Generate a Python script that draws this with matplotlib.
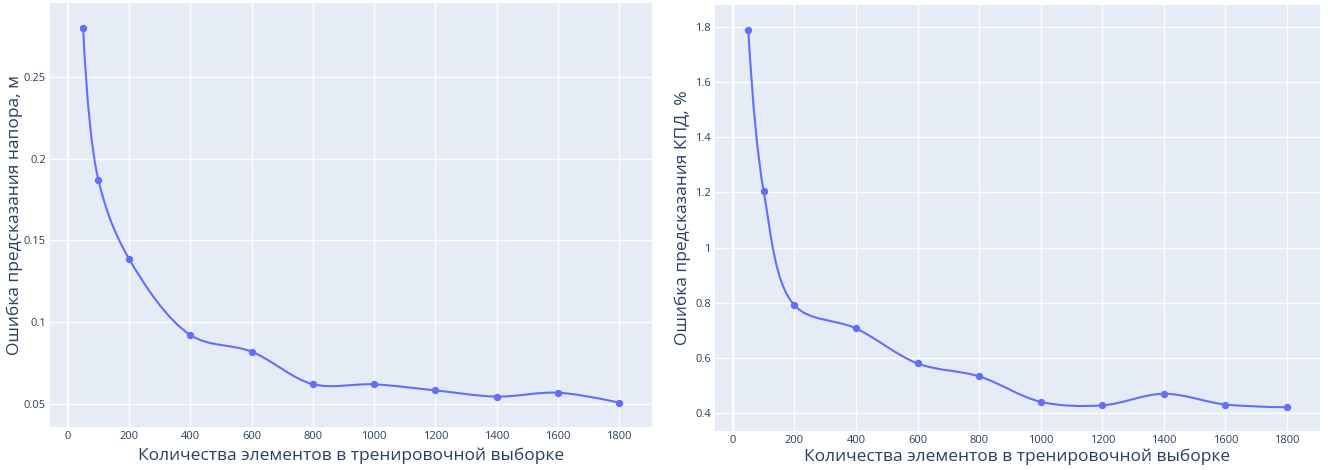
import numpy as np
import matplotlib.pyplot as plt
from matplotlib.path import Path
from matplotlib.patches import PathPatch

# Training set size and prediction errors
train_size = [50, 100, 200, 400, 600, 800, 1000, 1200, 1400, 1600, 1800]
head_error = [0.280, 0.187, 0.1388, 0.0922, 0.082, 0.0621, 0.062, 0.0583, 0.0545, 0.0569, 0.0508]
eff_error = [1.79, 1.204, 0.791, 0.707, 0.580, 0.533, 0.441, 0.428, 0.470, 0.431, 0.421]

x_ticks = [0, 200, 400, 600, 800, 1000, 1200, 1400, 1600, 1800]
head_ticks = [0.05, 0.1, 0.15, 0.2, 0.25]
eff_ticks = [0.4, 0.6, 0.8, 1.0, 1.2, 1.4, 1.6, 1.8]

x_label = 'Количества элементов в тренировочной выборке'
head_label = 'Ошибка предсказания напора, м'
eff_label = 'Ошибка предсказания КПД, %'

BG = '#E5ECF6'
LINE = '#636EFA'
TEXT = '#2a3f5f'

plt.rcParams['font.family'] = ['Open Sans', 'DejaVu Sans']


def tangent(p0, p1, p2, smooth=1.0):
    # Catmull-Rom style control points (centripetal, exponent 0.5)
    d1 = p0 - p1
    d2 = p2 - p1
    d1a = np.hypot(*d1) ** 0.5
    d2a = np.hypot(*d2) ** 0.5
    num = (d2a * d2a * d1 - d1a * d1a * d2) * smooth
    den1 = 3 * d2a * (d1a + d2a)
    den2 = 3 * d1a * (d1a + d2a)
    return p1 + num / den1, p1 - num / den2


def spline_path(ax, xs, ys):
    pts = ax.transData.transform(np.column_stack([xs, ys]))
    tans = [tangent(pts[i - 1], pts[i], pts[i + 1]) for i in range(1, len(pts) - 1)]
    verts = [pts[0], tans[0][0], pts[1]]
    codes = [Path.MOVETO, Path.CURVE3, Path.CURVE3]
    for i in range(2, len(pts) - 1):
        verts += [tans[i - 2][1], tans[i - 1][0], pts[i]]
        codes += [Path.CURVE4] * 3
    verts += [tans[-1][1], pts[-1]]
    codes += [Path.CURVE3] * 2
    verts = ax.transData.inverted().transform(np.array(verts))
    return Path(verts, codes)


fig = plt.figure(figsize=(13.28, 4.70), dpi=100)
ax1 = fig.add_axes([50 / 1328, 43 / 470, 602 / 1328, 424 / 470])
ax2 = fig.add_axes([715 / 1328, 39 / 470, 605 / 1328, 426 / 470])

panels = [
    (ax1, head_error, head_ticks, head_label, (0.0359, 0.2953), (-0.058, -0.068)),
    (ax2, eff_error, eff_ticks, eff_label, (0.335, 1.88), (-0.054, -0.061)),
]

for ax, err, yt, ylab, ylim, (ylx, xly) in panels:
    ax.set_facecolor(BG)
    ax.set_xlim(-58, 1907)
    ax.set_ylim(*ylim)
    for s in ax.spines.values():
        s.set_visible(False)
    ax.set_xticks(x_ticks)
    ax.set_yticks(yt)
    ax.set_yticklabels(['{:g}'.format(v) for v in yt])
    ax.tick_params(length=0, labelsize=8, labelcolor=TEXT, pad=3)
    ax.grid(True, color='white', linewidth=1.0)
    ax.axvline(0, color='white', linewidth=1.6, zorder=1)
    ax.set_axisbelow(True)
    ax.set_xlabel(x_label, fontsize=12.5, color=TEXT, va='center')
    ax.set_ylabel(ylab, fontsize=12.5, color=TEXT, va='center')
    ax.xaxis.set_label_coords(0.5, xly)
    ax.yaxis.set_label_coords(ylx, 0.5)

    patch = PathPatch(spline_path(ax, train_size, err), facecolor='none',
                      edgecolor=LINE, linewidth=1.5, zorder=3)
    ax.add_patch(patch)
    ax.plot(train_size, err, 'o', color=LINE, markersize=4.3, zorder=4)

fig.savefig('out.png', dpi=100, facecolor='white')
